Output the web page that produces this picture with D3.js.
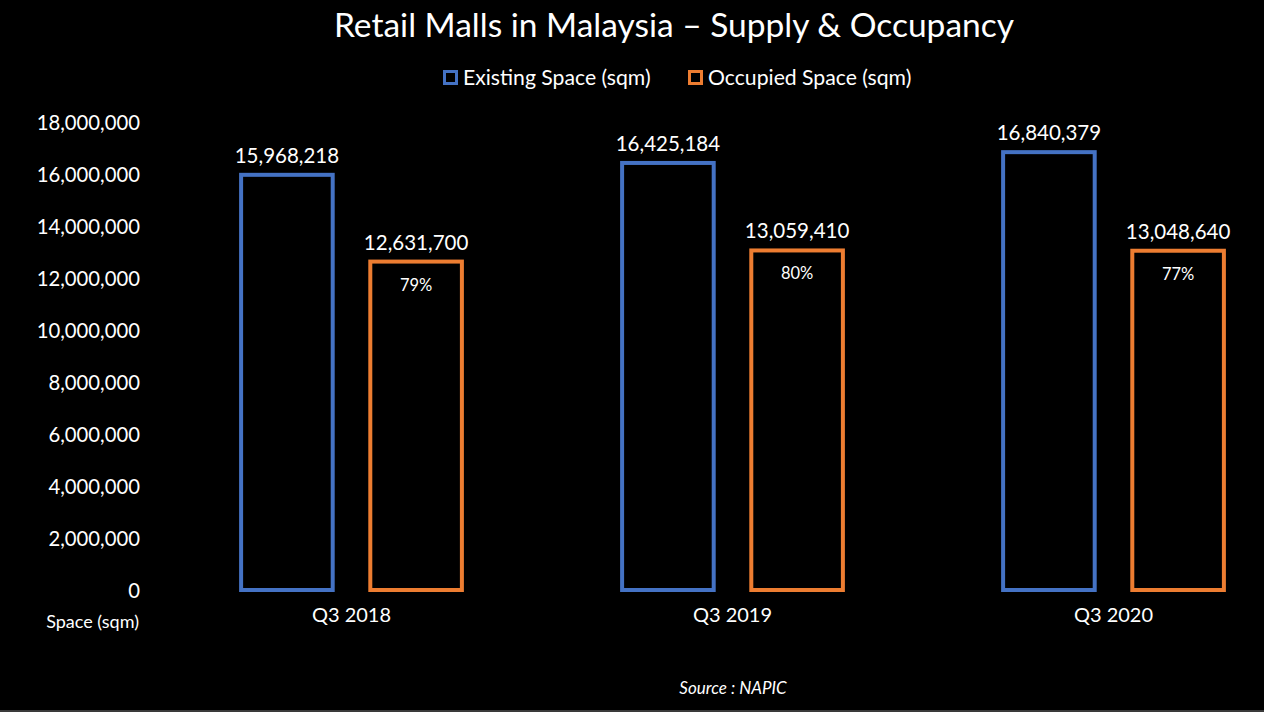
<!DOCTYPE html>
<html><head><meta charset="utf-8">
<script src="https://cdn.jsdelivr.net/npm/d3@7"></script>
<style>body{margin:0;background:#000;}svg{display:block;}</style>
</head><body>
<svg id="c" width="1264" height="712"></svg>
<script>
const categories = ["Q3 2018", "Q3 2019", "Q3 2020"];
const seriesNames = ["Existing Space (sqm)", "Occupied Space (sqm)"];
const existing = [15968218, 16425184, 16840379];
const occupied = [12631700, 13059410, 13048640];
const occupancyLabels = ["79%", "80%", "77%"];
const yTicks = [0, 2000000, 4000000, 6000000, 8000000, 10000000, 12000000, 14000000, 16000000, 18000000];
const colors = ["#4472C4", "#ED7D31"];
const FONT = "Lato, 'Open Sans', sans-serif";

const svg = d3.select("#c");
svg.append("rect").attr("width",1264).attr("height",712).attr("fill","#000");
svg.append("rect").attr("x",0).attr("y",710).attr("width",1264).attr("height",2).attr("fill","#3a3a3a");

const y = d3.scaleLinear().domain([0,18000000]).range([590,122]);
const x0 = d3.scaleBand().domain(categories).range([161,1304]).paddingInner(0.41).paddingOuter(0.205);
const x1 = d3.scaleBand().domain(seriesNames).range([0,x0.bandwidth()]).paddingInner(0.26).paddingOuter(0);

// Title
svg.append("text").attr("x",674).attr("y",37).attr("text-anchor","middle")
  .attr("fill","#fff").attr("font-family",FONT).attr("font-size",33.5).text("Retail Malls in Malaysia – Supply & Occupancy");

// Legend
const legend = [{name:seriesNames[0],x:443,c:colors[0]},{name:seriesNames[1],x:688,c:colors[1]}];
legend.forEach(l=>{
  svg.append("rect").attr("x",l.x+1.5).attr("y",71.5).attr("width",12).attr("height",12)
    .attr("fill","none").attr("stroke",l.c).attr("stroke-width",3);
  svg.append("text").attr("x",l.x+20).attr("y",85).attr("fill","#fff")
    .attr("font-family",FONT).attr("font-size",21.2).text(l.name);
});

// Y axis labels
const fmt = d3.format(",");
const yAxis = d3.axisLeft(y).tickValues(yTicks).tickFormat(d=>fmt(d)).tickSize(0).tickPadding(0);
const ya = svg.append("g").attr("transform","translate(140,0)").call(yAxis);
ya.select(".domain").remove();
ya.selectAll("text").attr("fill","#fff").attr("font-family",FONT).attr("font-size",20.3).attr("dy","0.35em");

// X axis labels
const xAxis = d3.axisBottom(x0).tickSize(0).tickPadding(0);
const xa = svg.append("g").attr("transform","translate(0,610)").call(xAxis);
xa.select(".domain").remove();
xa.selectAll("text").attr("fill","#fff").attr("font-family",FONT).attr("font-size",20).attr("dy","0.6em");

svg.append("text").attr("x",139).attr("y",628).attr("text-anchor","end").attr("fill","#fff")
  .attr("font-family",FONT).attr("font-size",18).text("Space (sqm)");

// Bars
const sw = 4;
const data = categories.map((c,i)=>({cat:c, vals:[existing[i], occupied[i]], pct:occupancyLabels[i]}));
const groups = svg.append("g").selectAll("g").data(data).join("g")
  .attr("transform",d=>`translate(${x0(d.cat)},0)`);
groups.selectAll("rect").data(d=>d.vals.map((v,j)=>({v, s:seriesNames[j], c:colors[j]}))).join("rect")
  .attr("x",d=>x1(d.s)+sw/2).attr("width",x1.bandwidth()-sw)
  .attr("y",d=>y(d.v)).attr("height",d=>y(0)-y(d.v))
  .attr("fill","none").attr("stroke",d=>d.c).attr("stroke-width",sw);
groups.selectAll("text.val").data(d=>d.vals.map((v,j)=>({v, s:seriesNames[j]}))).join("text")
  .attr("class","val").attr("x",d=>x1(d.s)+x1.bandwidth()/2).attr("y",d=>y(d.v)-12)
  .attr("text-anchor","middle").attr("fill","#fff").attr("font-family",FONT).attr("font-size",20.5)
  .text(d=>fmt(d.v));
groups.append("text").attr("x",x1(seriesNames[1])+x1.bandwidth()/2).attr("y",d=>y(d.vals[1])+29)
  .attr("text-anchor","middle").attr("fill","#fff").attr("font-family",FONT).attr("font-size",16.5)
  .text(d=>d.pct);

// Source
svg.append("text").attr("x",733).attr("y",694).attr("text-anchor","middle").attr("fill","#fff")
  .attr("font-family",FONT).attr("font-style","italic").attr("font-size",17).text("Source : NAPIC");
</script>
</body></html>
